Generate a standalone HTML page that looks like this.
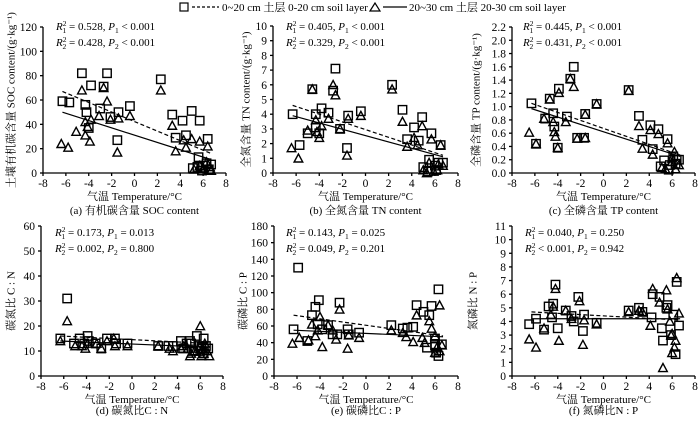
<!DOCTYPE html>
<html><head><meta charset="utf-8">
<style>
html,body{margin:0;padding:0;background:#fff;}
svg{display:block;font-family:"Liberation Serif","Noto Serif CJK SC",serif;}
</style></head>
<body>
<svg id="chart" width="700" height="422" viewBox="0 0 700 422" xmlns="http://www.w3.org/2000/svg">
  <g font-size="11">
    <rect x="180" y="3" width="8" height="8" fill="none" stroke="#000" stroke-width="1.2"/>
    <line x1="192" y1="7" x2="219" y2="7" stroke="#000" stroke-width="1.2" stroke-dasharray="3,2"/>
    <text x="222" y="11">0~20 cm 土层 0-20 cm soil layer</text>
    <path d="M370 11 L375 3 L380 11 Z" fill="none" stroke="#000" stroke-width="1.2"/>
    <line x1="383" y1="7" x2="407" y2="7" stroke="#000" stroke-width="1.2"/>
    <text x="409" y="11">20~30 cm 土层 20-30 cm soil layer</text>
  </g>
</svg>
<script>
// ---- Panel (a) SOC ----
const socSqX=[-6.3,-5.7,-4.6,-4.3,-4.2,-3.8,-4.0,-3.0,-2.7,-2.4,-2.1,-1.5,-1.4,-0.4,2.3,3.3,3.6,4.2,4.5,5.0,5.7,5.6,6.4,5.1,5.5,6.0,6.3,6.7,6.5,5.9];
const socSqY=[59,58,82,56,50,72,37,53,71,82,46,27,50,55,77,48,29,43,31,51,43,13,28,4,5,6,8,7,3,2];
const socTriX=[-6.4,-5.8,-5.1,-4.6,-4.3,-4.1,-3.9,-3.8,-4.3,-3.1,-2.7,-2.4,-2.1,-1.5,-1.4,-0.4,2.3,3.3,3.6,4.3,4.5,5.0,5.7,6.4,5.2,5.7,6.0,6.3,6.6,6.7];
const socTriY=[24,21,34,68,31,38,26,44,42,47,70,59,44,17,45,47,68,39,18,27,21,28,26,22,3,6,4,9,5,2];
const socFit1=[-6.3,67,6.7,16];
const socFit2=[-6.3,50,6.7,11];
// ---- Panel (b) TN ----
const tnSqX=[-6.3,-5.7,-5.0,-4.6,-4.3,-4.3,-4.0,-3.8,-3.2,-2.8,-2.6,-2.2,-1.6,-1.5,-0.4,2.3,3.2,3.6,4.2,4.6,4.9,5.7,6.5,5.0,5.4,5.5,6.0,6.3,6.7,6.1];
const tnSqY=[4.0,1.9,2.7,5.7,4.0,3.1,2.7,4.4,4.1,5.6,7.1,3.0,1.7,3.9,4.2,6.0,4.3,2.3,3.1,2.2,3.8,2.7,1.9,0.4,0.1,0.9,0.5,0.7,0.7,0.2];
const tnTriX=[-6.4,-5.8,-5.0,-4.6,-4.3,-4.2,-4.0,-3.8,-3.2,-2.8,-2.6,-2.2,-1.6,-1.5,-0.4,2.3,3.2,3.6,4.2,4.5,4.9,5.7,6.5,5.0,5.5,5.9,6.3,6.7,6.2,5.3];
const tnTriY=[1.7,1.0,2.9,5.7,3.6,2.8,2.4,3.2,3.7,6.0,5.3,3.0,1.2,3.7,3.9,5.7,3.5,1.8,2.4,1.9,3.2,2.3,1.9,0.2,0.7,0.1,0.6,0.5,0.2,0.0];
const tnFit1=[-6.3,4.6,6.7,1.2];
const tnFit2=[-6.3,3.9,6.7,1.1];
// ---- Panel (c) TP ----
const tpSqX=[-6.3,-5.9,-5.1,-4.7,-4.4,-4.3,-4.0,-3.9,-3.2,-2.9,-2.6,-2.3,-1.7,-1.6,-0.6,2.2,3.1,3.4,4.1,4.3,4.8,5.6,6.4,5.0,5.3,5.8,6.1,6.3,6.6,5.7];
const tpSqY=[1.05,0.44,0.82,1.12,0.90,0.70,0.38,1.27,0.85,1.42,1.60,0.53,0.53,0.89,1.04,1.25,0.86,0.50,0.72,0.36,0.66,0.51,0.20,0.10,0.19,0.12,0.25,0.14,0.20,0.05];
const tpTriX=[-6.5,-5.9,-5.2,-4.7,-4.4,-4.3,-4.2,-4.0,-3.9,-3.3,-2.9,-2.6,-2.3,-1.6,-1.6,-0.6,2.2,3.1,3.4,4.1,4.3,4.8,5.6,6.2,5.1,5.4,6.0,6.3,6.6,6.0];
const tpTriY=[0.61,0.44,0.82,1.11,0.77,0.62,0.55,0.38,1.21,0.77,1.42,1.30,0.52,0.53,0.88,1.04,1.24,0.71,0.37,0.65,0.28,0.59,0.45,0.32,0.08,0.06,0.17,0.06,0.12,0.22];
const tpFit1=[-6.3,1.05,6.7,0.27];
const tpFit2=[-6.3,0.97,6.7,0.25];
// ---- Panel (d) C:N ----
const cnSqX=[-6.3,-5.7,-5.1,-4.6,-4.2,-3.9,-3.8,-3.2,-2.7,-2.2,-1.5,-1.4,-0.4,2.3,3.2,3.6,4.3,4.8,5.2,5.7,6.3,6.7,5.9,6.0,6.3,5.4,4.5,6.5,5.1,6.1];
const cnSqY=[15,31,13,15,13,16,14,13,11,15,15,13,13,12,12,12,14,13,13,16,15,11,12,10,9,10,11,12,14,11];
const cnTriX=[-6.3,-5.7,-5.0,-4.4,-4.1,-3.9,-3.1,-2.7,-2.2,-1.5,-1.6,-0.4,2.3,3.3,3.6,4.3,4.5,5.1,5.5,6.0,6.1,6.4,6.6,6.8,5.9,6.3,5.8,4.9,6.2,5.2];
const cnTriY=[14,22,12,12,11,13,13,11,14,12,15,12,12,11,10,11,12,8,10,20,8,13,10,8,12,9,11,11,11,9];
const cnFit1=[-6.3,16,6.7,13];
const cnFit2=[-6.3,14,6.7,11.5];
// ---- Panel (e) C:P ----
const cpSqX=[-6.3,-5.9,-5.1,-4.7,-4.4,-4.2,-4.1,-3.8,-3.3,-2.9,-2.3,-2.5,-1.6,-1.5,-0.6,2.2,3.2,3.6,4.1,4.4,5.0,5.5,5.7,6.3,5.3,6.0,6.1,6.3,6.6,6.0];
const cpSqY=[56,130,42,73,83,62,91,56,61,50,88,50,56,50,52,61,57,58,59,85,77,73,84,104,34,37,28,24,38,45];
const cpTriX=[-6.4,-5.8,-5.0,-4.7,-4.4,-4.2,-4.0,-3.8,-3.3,-2.9,-2.3,-2.6,-1.6,-1.5,-0.6,2.2,3.2,3.5,4.1,4.4,4.9,5.1,5.5,5.7,6.4,6.0,6.2,6.4,6.6,6.0];
const cpTriY=[39,46,43,62,48,55,71,35,61,55,80,44,33,49,46,55,52,47,41,73,46,40,66,57,85,48,35,30,37,28];
const cpFit1=[-6.3,73,6.7,48];
const cpFit2=[-6.3,55,6.7,47];
// ---- Panel (f) N:P ----
const npSqX=[-6.5,-5.9,-5.2,-4.8,-4.5,-4.4,-4.2,-4.0,-3.3,-2.8,-2.6,-2.2,-1.7,-1.8,-0.6,2.2,3.1,3.4,4.2,4.3,4.9,5.1,5.2,5.5,5.6,5.9,6.1,6.3,6.4,6.6];
const npSqY=[3.8,4.2,3.4,5.1,4.3,5.3,6.7,3.5,4.8,4.4,4.0,5.8,4.5,3.3,3.9,4.8,5.0,4.7,4.3,6.0,5.8,3.5,2.6,5.0,5.2,3.0,4.5,1.6,6.9,3.7];
const npTriX=[-6.5,-5.9,-5.2,-4.6,-4.4,-4.2,-3.9,-3.3,-2.8,-2.1,-1.8,-1.7,-0.6,2.2,3.1,3.4,4.1,4.3,4.9,5.2,5.5,5.6,5.9,6.0,6.2,6.3,6.4,6.6,5.8,6.0];
const npTriY=[2.7,2.1,3.5,4.5,5.1,6.4,2.6,4.8,4.2,5.5,2.3,4.1,3.8,4.7,4.8,4.7,3.7,6.4,5.4,0.6,6.3,4.9,3.0,1.7,2.1,2.6,7.2,4.6,4.0,3.1];
const npFit1=[-6.3,4.7,6.7,4.1];
const npFit2=[-6.3,4.2,6.7,4.2];

const xTicks=[-8,-6,-4,-2,0,2,4,6,8];

const NS='http://www.w3.org/2000/svg';
const svg=document.getElementById('chart');
function mk(tag,attrs,parent){const e=document.createElementNS(NS,tag);for(const k in attrs)e.setAttribute(k,attrs[k]);(parent||svg).appendChild(e);return e;}

const panels=[
 {id:'soc',L:43,R:226,T:27,B:173,ymax:120,step:20,dec:0,sx:socSqX,sy:socSqY,tx:socTriX,ty:socTriY,f1:socFit1,f2:socFit2,
  ytitle:'土壤有机碳含量 SOC content/(g·kg⁻¹)',ytx:12,cap:'(a) 有机碳含量 SOC content',capY:214,
  ann1:['0.528','< 0.001'],ann2:['0.428','< 0.001'],annX:56,annY:30},
 {id:'tn',L:273,R:458,T:26,B:173,ymax:10,step:1,dec:0,sx:tnSqX,sy:tnSqY,tx:tnTriX,ty:tnTriY,f1:tnFit1,f2:tnFit2,
  ytitle:'全氮含量 TN content/(g·kg⁻¹)',ytx:247,cap:'(b) 全氮含量 TN content',capY:214,
  ann1:['0.405','< 0.001'],ann2:['0.329','< 0.001'],annX:286,annY:30},
 {id:'tp',L:512,R:695,T:27,B:173,ymax:2.2,step:0.2,dec:1,sx:tpSqX,sy:tpSqY,tx:tpTriX,ty:tpTriY,f1:tpFit1,f2:tpFit2,
  ytitle:'全磷含量 TP content/(g·kg⁻¹)',ytx:477,cap:'(c) 全磷含量 TP content',capY:214,
  ann1:['0.445','< 0.001'],ann2:['0.431','< 0.001'],annX:523,annY:30},
 {id:'cn',L:41,R:223,T:226,B:376,ymax:60,step:10,dec:0,sx:cnSqX,sy:cnSqY,tx:cnTriX,ty:cnTriY,f1:cnFit1,f2:cnFit2,
  ytitle:'碳氮比 C : N',ytx:12,cap:'(d) 碳氮比C : N',capY:414,
  ann1:['0.173','= 0.013'],ann2:['0.002','= 0.800'],annX:55,annY:236},
 {id:'cp',L:274,R:458,T:226,B:376,ymax:180,step:20,dec:0,sx:cpSqX,sy:cpSqY,tx:cpTriX,ty:cpTriY,f1:cpFit1,f2:cpFit2,
  ytitle:'碳磷比 C : P',ytx:244,cap:'(e) 碳磷比C : P',capY:414,
  ann1:['0.143','= 0.025'],ann2:['0.049','= 0.201'],annX:286,annY:236},
 {id:'np',L:512,R:695,T:226,B:376,ymax:11,step:1,dec:0,sx:npSqX,sy:npSqY,tx:npTriX,ty:npTriY,f1:npFit1,f2:npFit2,
  ytitle:'氮磷比 N : P',ytx:474,cap:'(f) 氮磷比N : P',capY:414,
  ann1:['0.040','= 0.250'],ann2:['< 0.001','= 0.942'],annX:525,annY:236,lessR2:true}
];

panels.forEach(p=>{
  const g=mk('g',{});
  
  
  const xs=v=>p.L+(v+8)/16*(p.R-p.L);
  const ys=v=>p.B-v/p.ymax*(p.B-p.T);
  const ax=mk('g',{stroke:'#000','stroke-width':1.3},g);
  
  
  mk('line',{x1:p.L,y1:p.T,x2:p.L,y2:p.B},ax);
  mk('line',{x1:p.L,y1:p.B,x2:p.R,y2:p.B},ax);
  const n=Math.round(p.ymax/p.step);
  for(let i=0;i<=n;i++){
    const v=i*p.step,y=ys(v);
    mk('line',{x1:p.L-3,y1:y,x2:p.L,y2:y},ax);
    const t=mk('text',{x:p.L-6,y:y+4,'text-anchor':'end','font-size':11.5},g);
    
    
    t.textContent=v.toFixed(p.dec);
  }
  xTicks.forEach(v=>{
    const x=xs(v);
    mk('line',{x1:x,y1:p.B,x2:x,y2:p.B+3},ax);
    const t=mk('text',{x:x,y:p.B+14,'text-anchor':'middle','font-size':11.5},g);
    
    
    t.textContent=v;
  });
  const xt=mk('text',{x:(p.L+p.R)/2,y:p.B+27,'text-anchor':'middle','font-size':11},g);
  
  
  xt.textContent='气温  Temperature/°C';
  const yc=(p.T+p.B)/2;
  const yt=mk('text',{x:p.ytx,y:yc,'text-anchor':'middle','font-size':11,transform:'rotate(-90 '+p.ytx+' '+yc+')','dominant-baseline':'middle'},g);
  
  
  yt.textContent=p.ytitle;
  const cp=mk('text',{x:(p.L+p.R)/2,y:p.capY,'text-anchor':'middle','font-size':11},g);
  
  
  cp.textContent=p.cap;
  [[p.ann1,1,p.annY],[p.ann2,2,p.annY+16]].forEach(([a,k,y])=>{
    const t=mk('text',{x:p.annX,y:y,'font-size':11},g);
    
    
    const r2=(p.lessR2&&k===2)?' '+a[0]:' = '+a[0];
    t.innerHTML='<tspan font-style="italic">R</tspan><tspan font-size="7.5" dy="-4">2</tspan><tspan font-size="7.5" dx="-4" dy="7">'+k+'</tspan><tspan dy="-3">'+r2+', </tspan><tspan font-style="italic">P</tspan><tspan font-size="7.5" dy="3">'+k+'</tspan><tspan dy="-3"> '+a[1]+'</tspan>';
  });
  const l1=mk('line',{x1:xs(p.f1[0]),y1:ys(p.f1[1]),x2:xs(p.f1[2]),y2:ys(p.f1[3]),stroke:'#000','stroke-width':1.2,'stroke-dasharray':'4,2.5'},g);
  
  
  const l2=mk('line',{x1:xs(p.f2[0]),y1:ys(p.f2[1]),x2:xs(p.f2[2]),y2:ys(p.f2[3]),stroke:'#000','stroke-width':1.2},g);
  
  
  p.sx.forEach((v,i)=>{
    const x=xs(v),y=ys(p.sy[i]);
    const r=mk('rect',{x:x-4.2,y:y-4.2,width:8.4,height:8.4,fill:'none',stroke:'#000','stroke-width':1.4},g);
    
    
  });
  p.tx.forEach((v,i)=>{
    const x=xs(v),y=ys(p.ty[i]);
    const t=mk('path',{d:'M'+(x-4.3)+' '+(y+3.7)+' L'+x+' '+(y-4.3)+' L'+(x+4.3)+' '+(y+3.7)+' Z',fill:'none',stroke:'#000','stroke-width':1.4},g);
    
    
  });
});
</script>
</body></html>
